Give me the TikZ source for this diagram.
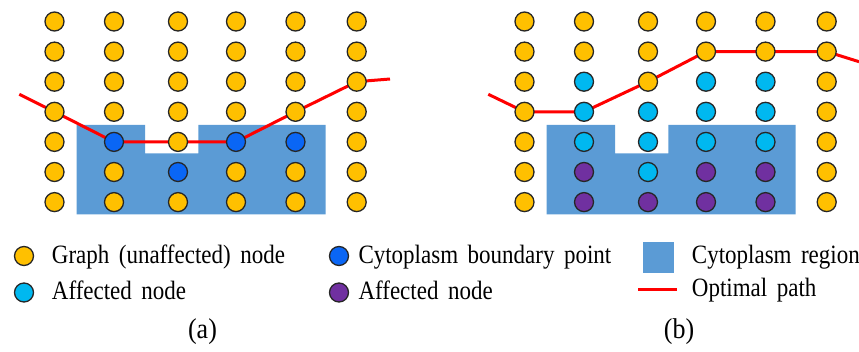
\documentclass[tikz,border=0pt]{standalone}
\usepackage{fontspec}
\usepackage{graphicx}
\setmainfont{Liberation Serif}
\pgfdeclarelayer{background}
\pgfsetlayers{background,main}
\definecolor{Y}{HTML}{FFC000}
\definecolor{B}{HTML}{0A66F5}
\definecolor{C}{HTML}{00B8F0}
\definecolor{P}{HTML}{7030A0}
\definecolor{regionblue}{HTML}{5B9BD5}
\definecolor{pathred}{HTML}{FF0000}
\definecolor{rim}{HTML}{262626}
\newcommand{\legtxt}[1]{\scalebox{1}[1.15]{\fontsize{23}{28}\selectfont\spaceskip=9.5pt #1}}
\newcommand{\captxt}[1]{\scalebox{1}[1.1]{\fontsize{26}{30}\selectfont #1}}
\tikzset{
  dot/.style={circle, minimum size=19pt, inner sep=0pt, draw=rim, line width=1.3pt},
  region/.style={fill=regionblue},
  optpath/.style={draw=pathred, line width=3pt, line join=round},
  legendtext/.style={anchor=base west, inner sep=0pt},
  captext/.style={anchor=base, inner sep=0pt}
}
\begin{document}
\begin{tikzpicture}[x=1pt,y=-1pt]
\useasboundingbox (0,0) rectangle (859,352);
% panel (a) nodes
\foreach \c/\x/\colors in {0/54.5/{Y,Y,Y,Y,Y,Y,Y},1/114/{Y,Y,Y,Y,B,Y,Y},2/178/{Y,Y,Y,Y,Y,B,Y},3/236/{Y,Y,Y,Y,B,Y,Y},4/295.5/{Y,Y,Y,Y,B,Y,Y},5/356.7/{Y,Y,Y,Y,Y,Y,Y}}{
  \foreach \f [count=\r from 0] in \colors {
    \node[dot, fill=\f] (a-\c-\r) at (\x, 21.5+30.1*\r) {};
  }
}
% panel (b) nodes
\foreach \c/\x/\colors in {0/524.5/{Y,Y,Y,Y,Y,Y,Y},1/584/{Y,Y,C,C,C,P,P},2/648/{Y,Y,Y,C,C,C,P},3/706/{Y,Y,C,C,C,P,P},4/765.5/{Y,Y,C,C,C,P,P},5/826.7/{Y,Y,Y,Y,Y,Y,Y}}{
  \foreach \f [count=\r from 0] in \colors {
    \node[dot, fill=\f] (b-\c-\r) at (\x, 21.5+30.1*\r) {};
  }
}
\coordinate (astart) at (19.3,94.3);
\coordinate (aend) at (390,79);
\coordinate (bstart) at (488.3,94.3);
\coordinate (bend) at (859,61.7);
\begin{pgfonlayer}{background}
  \fill[region] (76.7,125) -- (145,125) -- (145,153.3) -- (198.3,153.3) -- (198.3,125) -- (325.7,125) -- (325.7,214.3) -- (76.7,214.3) -- cycle;
  \fill[region] (546.7,125) -- (615,125) -- (615,153.3) -- (668.3,153.3) -- (668.3,125) -- (795.7,125) -- (795.7,214.3) -- (546.7,214.3) -- cycle;
  \draw[optpath] (astart) -- (a-0-3.center) -- (a-1-4.center) -- (a-2-4.center) -- (a-3-4.center) -- (a-4-3.center) -- (a-5-2.center) -- (aend);
  \draw[optpath] (bstart) -- (b-0-3.center) -- (b-1-3.center) -- (b-2-2.center) -- (b-3-1.center) -- (b-4-1.center) -- (b-5-1.center) -- (bend);
\end{pgfonlayer}
% legend
\node[dot, fill=Y] (lg1) at (24,256) {};
\node[legendtext] (lt1) at (51.7,264) {\legtxt{Graph (unaffected) node}};
\node[dot, fill=C] (lg2) at (24,292.5) {};
\node[legendtext] (lt2) at (51.7,300) {\legtxt{Affected node}};
\node[dot, fill=B] (lg3) at (339,256) {};
\node[legendtext] (lt3) at (358.3,264) {\legtxt{Cytoplasm boundary point}};
\node[dot, fill=P] (lg4) at (339,292.5) {};
\node[legendtext] (lt4) at (358.3,300) {\legtxt{Affected node}};
\node[region, minimum width=30.7pt, minimum height=30.4pt, inner sep=0pt] (lg5) at (658.7,257.5) {};
\node[legendtext] (lt5) at (691.7,264) {\legtxt{Cytoplasm region}};
\coordinate (lr1) at (638,289.3);
\coordinate (lr2) at (677,289.3);
\draw[optpath] (lr1) -- (lr2);
\node[legendtext] (lt6) at (691.7,297) {\legtxt{Optimal path}};
\node[captext] (capa) at (202.5,338) {\captxt{(a)}};
\node[captext] (capb) at (679,338) {\captxt{(b)}};
\end{tikzpicture}
\end{document}
